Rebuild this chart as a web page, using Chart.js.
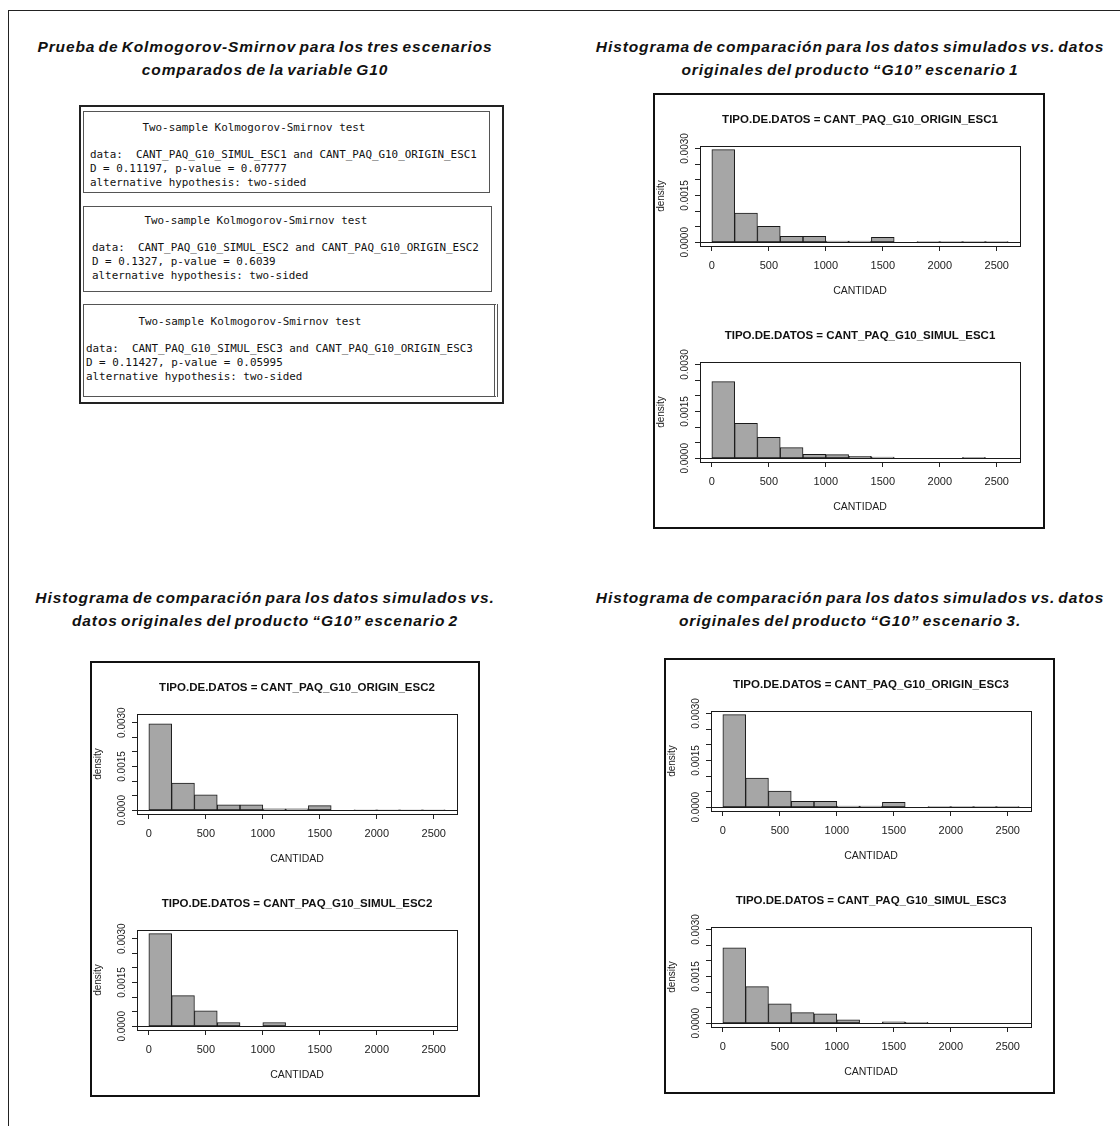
<!DOCTYPE html>
<html>
<head>
<meta charset="utf-8">
<script src="https://cdn.jsdelivr.net/npm/chart.js@4.4.0/dist/chart.umd.min.js"></script>
<style>
  body { margin: 0; background: #fff; width: 1120px; height: 1126px; position: relative; overflow: hidden;
         font-family: "Liberation Sans", Arial, sans-serif; }
  .pagina { position: absolute; left: 8px; top: 10px; width: 1300px; height: 1300px;
            border-left: 1px solid #222; border-top: 1px solid #222; }
  .titulo { position: absolute; font-weight: bold; font-style: italic; font-size: 15.5px; line-height: 23px;
            text-align: center; white-space: nowrap; color: #111; letter-spacing: 0.9px; word-spacing: -2px; }
  .marco { position: absolute; border: 2px solid #111; background: #fff; }
  .marco canvas { display: block; }
  .ks { position: absolute; left: 79px; top: 105px; width: 421px; height: 295px; border: 2px solid #222; }
  .caja { position: absolute; border: 1px solid #555; margin: 0; box-sizing: border-box;
          font-family: "DejaVu Sans Mono", monospace; font-size: 10.9px; line-height: 13.7px; color: #111; }
</style>
</head>
<body>
<div class="pagina"></div>

<div class="titulo" style="left:15px; top:35px; width:500px;">Prueba de Kolmogorov-Smirnov para los tres escenarios<br>comparados de la variable G10</div>
<div class="titulo" style="left:590px; top:35px; width:520px;">Histograma de comparación para los datos simulados vs. datos<br>originales del producto “G10” escenario 1</div>
<div class="titulo" style="left:15px; top:586px; width:500px;">Histograma de comparación para los datos simulados vs.<br>datos originales del producto “G10” escenario 2</div>
<div class="titulo" style="left:590px; top:586px; width:520px;">Histograma de comparación para los datos simulados vs. datos<br>originales del producto “G10” escenario 3.</div>

<div class="ks"></div>
<pre class="caja" style="left:83px; top:111px; width:407px; height:82px; padding:9px 0 0 6px;">        Two-sample Kolmogorov-Smirnov test

data:  CANT_PAQ_G10_SIMUL_ESC1 and CANT_PAQ_G10_ORIGIN_ESC1
D = 0.11197, p-value = 0.07777
alternative hypothesis: two-sided</pre>
<pre class="caja" style="left:83px; top:206px; width:409px; height:86px; padding:7px 0 0 8px;">        Two-sample Kolmogorov-Smirnov test

data:  CANT_PAQ_G10_SIMUL_ESC2 and CANT_PAQ_G10_ORIGIN_ESC2
D = 0.1327, p-value = 0.6039
alternative hypothesis: two-sided</pre>
<pre class="caja" style="left:83px; top:304px; width:415px; height:93px; padding:10px 0 0 2px; border-right:4px double #555;">        Two-sample Kolmogorov-Smirnov test

data:  CANT_PAQ_G10_SIMUL_ESC3 and CANT_PAQ_G10_ORIGIN_ESC3
D = 0.11427, p-value = 0.05995
alternative hypothesis: two-sided</pre>

<div class="marco" style="left:653px; top:93px; width:388px; height:432px;">
  <canvas id="h1a" width="388" height="216"></canvas>
  <canvas id="h1b" width="388" height="216"></canvas>
</div>
<div class="marco" style="left:90px; top:661px; width:386px; height:432px;">
  <canvas id="h2a" width="386" height="216"></canvas>
  <canvas id="h2b" width="386" height="216"></canvas>
</div>
<div class="marco" style="left:664px; top:658px; width:387px; height:432px;">
  <canvas id="h3a" width="387" height="216"></canvas>
  <canvas id="h3b" width="387" height="216"></canvas>
</div>

<script>
// inicio de cada clase del histograma (ancho 200)
const binStart = [0, 200, 400, 600, 800, 1000, 1200, 1400, 1600, 1800, 2000, 2200, 2400];
const xTicks = [0, 500, 1000, 1500, 2000, 2500];
const xTickLabels = ['0', '500', '1000', '1500', '2000', '2500'];
const yTicks = [0, 0.0005, 0.001, 0.0015, 0.002, 0.0025, 0.003];
const yTickLabels = ['0.0000', '', '', '0.0015', '', '', '0.0030'];

const originEsc1 = [0.00296, 0.00093, 0.00051, 0.00019, 0.00019, 0.00004, 0.00004, 0.00016, 0, 0.00002, 0.00002, 0.00002, 0.00002];
const simulEsc1  = [0.00245, 0.00112, 0.00067, 0.00034, 0.000125, 0.000115, 0.00006, 0.00004, 0, 0, 0, 0.00003, 0];
const originEsc2 = [0.00296, 0.00093, 0.00053, 0.00019, 0.00019, 0.00005, 0.00005, 0.00016, 0, 0.00002, 0.00002, 0.00002, 0.00002];
const simulEsc2  = [0.00317, 0.00105, 0.00053, 0.00013, 0, 0.00013, 0, 0, 0, 0, 0, 0, 0];
const originEsc3 = [0.00296, 0.00093, 0.00052, 0.00019, 0.00019, 0.00004, 0.00004, 0.00016, 0, 0.00002, 0.00002, 0.00002, 0.00002];
const simulEsc3  = [0.00241, 0.00117, 0.00062, 0.00034, 0.0003, 0.00011, 0, 0.00005, 0.00003, 0, 0, 0, 0];

Chart.defaults.font.family = '"Liberation Sans", Arial, sans-serif';

// caja, linea en cero y etiquetas verticales al estilo de R
const marcoR = {
    id: 'marcoR',
    afterDraw(chart) {
        const { ctx, chartArea: a, scales: { y } } = chart;
        ctx.save();
        ctx.strokeStyle = '#1a1a1a';
        ctx.lineWidth = 1;
        ctx.strokeRect(Math.round(a.left) + 0.5, Math.round(a.top) + 0.5, Math.round(a.width), Math.round(a.height));
        const y0 = Math.round(y.getPixelForValue(0)) + 0.5;
        ctx.beginPath();
        ctx.moveTo(a.left, y0);
        ctx.lineTo(a.right, y0);
        ctx.stroke();
        ctx.fillStyle = '#222';
        ctx.font = '10px "Liberation Sans", Arial, sans-serif';
        ctx.textAlign = 'center';
        ctx.textBaseline = 'middle';
        y.ticks.forEach((t, i) => {
            const txt = yTickLabels[i];
            if (!txt) return;
            ctx.save();
            ctx.translate(a.left - 15, y.getPixelForValue(t.value));
            ctx.rotate(-Math.PI / 2);
            ctx.fillText(txt, 0, 0);
            ctx.restore();
        });
        ctx.restore();
    }
};

function histograma(id, titulo, dens, par) {
    const m = Math.max(...par);
    const cv = document.getElementById(id);
    new Chart(cv, {
        type: 'bar',
        data: {
            datasets: [{
                data: binStart.map((b, i) => ({ x: b + 100, y: dens[i] })),
                backgroundColor: '#a6a6a6',
                borderColor: '#1a1a1a',
                borderWidth: 1,
                borderSkipped: false,
                barPercentage: 1,
                categoryPercentage: 1
            }]
        },
        options: {
            responsive: false,
            animation: false,
            layout: { padding: { left: 0, top: 0, bottom: 0, right: cv.width - 365 } },
            plugins: {
                legend: { display: false },
                tooltip: { enabled: false },
                title: {
                    display: true,
                    text: titulo,
                    fullSize: false,
                    color: '#111',
                    font: { size: 11.5, weight: 'bold' },
                    padding: { top: 18, bottom: 19.2 }
                }
            },
            scales: {
                x: {
                    type: 'linear',
                    offset: false,
                    min: -104,
                    max: 2704,
                    afterBuildTicks: s => { s.ticks = xTicks.map(v => ({ value: v })); },
                    ticks: { callback: (v, i) => xTickLabels[i], color: '#222', font: { size: 11 }, padding: 8, maxRotation: 0, autoSkip: false },
                    grid: { offset: false, drawOnChartArea: false, color: '#222', tickLength: 5 },
                    border: { display: false },
                    title: { display: true, text: 'CANTIDAD', color: '#222', font: { size: 10.5 }, padding: { top: 0, bottom: 13.7 } },
                    afterFit: s => { s.height = 65; }
                },
                y: {
                    min: -0.04 * m,
                    max: 1.04 * m,
                    afterBuildTicks: s => { s.ticks = yTicks.map(v => ({ value: v })); },
                    ticks: { display: false },
                    grid: { drawOnChartArea: false, color: '#222', tickLength: 5 },
                    border: { display: false },
                    title: { display: true, text: 'density', color: '#222', font: { size: 10 }, padding: { top: 0.5, bottom: 0 } },
                    afterFit: s => { s.width = 45; }
                }
            }
        },
        plugins: [marcoR]
    });
}

document.addEventListener('DOMContentLoaded', function () {
    const p1 = originEsc1.concat(simulEsc1);
    const p2 = originEsc2.concat(simulEsc2);
    const p3 = originEsc3.concat(simulEsc3);
    histograma('h1a', 'TIPO.DE.DATOS = CANT_PAQ_G10_ORIGIN_ESC1', originEsc1, p1);
    histograma('h1b', 'TIPO.DE.DATOS = CANT_PAQ_G10_SIMUL_ESC1', simulEsc1, p1);
    histograma('h2a', 'TIPO.DE.DATOS = CANT_PAQ_G10_ORIGIN_ESC2', originEsc2, p2);
    histograma('h2b', 'TIPO.DE.DATOS = CANT_PAQ_G10_SIMUL_ESC2', simulEsc2, p2);
    histograma('h3a', 'TIPO.DE.DATOS = CANT_PAQ_G10_ORIGIN_ESC3', originEsc3, p3);
    histograma('h3b', 'TIPO.DE.DATOS = CANT_PAQ_G10_SIMUL_ESC3', simulEsc3, p3);
});
</script>
</body>
</html>
